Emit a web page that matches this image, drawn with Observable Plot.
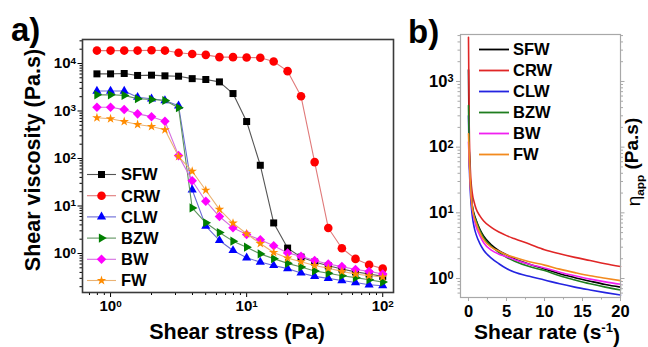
<!DOCTYPE html>
<html><head><meta charset="utf-8">
<script src="https://cdn.jsdelivr.net/npm/d3@7"></script>
<script src="https://cdn.jsdelivr.net/npm/@observablehq/plot@0.6"></script>
<style>
body{margin:0;background:#fff;}
#wrap{position:relative;width:648px;height:347px;overflow:hidden;}
#wrap svg{position:absolute;top:0;}
</style></head><body><div id="wrap"></div>
<script>
// ---------- data ----------
const series = ["SFW", "CRW", "CLW", "BZW", "BW", "FW"];

// panel a: shear stress (Pa) vs shear viscosity (Pa.s)
const stressA = [0.794, 1, 1.26, 1.58, 2, 2.51, 3.16, 3.98, 5.01, 6.31, 7.94, 10, 12.6, 15.8, 20, 25.1, 31.6, 39.8, 50.1, 63.1, 79.4, 100];
const sfwA = [6050, 6050, 6150, 5600, 5680, 5500, 5400, 4800, 4600, 4100, 2330, 600, 72, 4.4, 1.3, 0.84, 0.66, 0.55, 0.47, 0.41, 0.37, 0.33];
const crwA = [18700, 18700, 18700, 18700, 19000, 18700, 16800, 15900, 15200, 13600, 13600, 13400, 13200, 11000, 6900, 2040, 84, 3.45, 1.29, 0.77, 0.58, 0.48];
const clwA = [2630, 2630, 2630, 1950, 1810, 1660, 1290, 22, 3.76, 1.88, 1.16, 0.81, 0.66, 0.56, 0.48, 0.39, 0.33, 0.30, 0.27, 0.245, 0.22, 0.21];
const bzwA = [2190, 2190, 2130, 1810, 1740, 1660, 1170, 9.1, 4.43, 2.77, 1.82, 1.36, 0.98, 0.78, 0.62, 0.52, 0.43, 0.385, 0.34, 0.31, 0.28, 0.25];
const bwA  = [1200, 1200, 1070, 870, 760, 610, 115, 34, 12.6, 6.0, 3.47, 2.5, 1.94, 1.46, 1.03, 0.87, 0.71, 0.60, 0.53, 0.46, 0.42, 0.37];
const fwA  = [720, 685, 600, 520, 472, 402, 110, 54, 21.5, 8.5, 4.35, 2.6, 1.62, 1.05, 0.8, 0.67, 0.56, 0.49, 0.42, 0.37, 0.34, 0.32];
const xTicksA = [1, 10, 100];
const yTicksA = [1, 10, 100, 1000, 10000];

// panel b: shear rate (1/s) vs apparent viscosity (Pa.s)
const rateB = [0, 0.1, 0.25, 0.5, 0.75, 1, 1.5, 2, 3, 4, 5, 6, 8, 10, 12, 14, 16, 18, 20];
const sfwB = [1500, 90, 30, 13, 9.5, 7.8, 5.6, 4.4, 3.25, 2.65, 2.3, 2.0, 1.65, 1.4, 1.18, 1.03, 0.91, 0.81, 0.74];
const crwB = [4700, 200, 45, 20, 14.5, 11.5, 9, 7.5, 6, 5.1, 4.5, 4.05, 3.35, 2.75, 2.38, 2.1, 1.88, 1.68, 1.52];
const clwB = [300, 60, 20, 9, 6, 4.7, 3.4, 2.7, 2.05, 1.68, 1.42, 1.26, 1.08, 0.95, 0.83, 0.74, 0.67, 0.61, 0.56];
const bzwB = [430, 85, 28, 12.5, 9, 7.6, 5.4, 4.2, 3.1, 2.5, 2.1, 1.85, 1.52, 1.32, 1.1, 0.95, 0.83, 0.74, 0.67];
const bwB  = [120, 60, 25, 11.5, 8, 6.2, 4.5, 3.5, 2.7, 2.35, 2.15, 1.95, 1.65, 1.45, 1.25, 1.10, 0.98, 0.89, 0.82];
const fwB  = [160, 70, 27, 12, 8.6, 7, 5, 3.9, 3.0, 2.6, 2.3, 2.1, 1.8, 1.6, 1.39, 1.23, 1.1, 1.01, 0.93];
const xTicksB = [0, 5, 10, 15, 20];
const xMinorB = [2.5, 7.5, 12.5, 17.5];
const yTicksB = [1, 10, 100, 1000];

// ---------- styles ----------
const FONT = '"Liberation Sans", Arial, Helvetica, sans-serif';
const markerColors = ["#000000", "#ff0000", "#0000ff", "#008000", "#ff00ff", "#ff8c00"];
const lineColorsA = ["#555555", "#e07a7a", "#6a6ad6", "#5f945f", "#d46ee0", "#eab273"];
const lineColorsB = ["#000000", "#e02626", "#2424e0", "#1f7d1f", "#f020f0", "#f28a1e"];

const triRight = {draw(ctx, size) {
  const y = -Math.sqrt(size / (Math.sqrt(3) * 3));
  ctx.moveTo(-2 * y, 0); ctx.lineTo(y, -Math.sqrt(3) * y); ctx.lineTo(y, Math.sqrt(3) * y); ctx.closePath();
}};
const diamondSym = {draw(ctx, size) {
  const d = Math.sqrt(size * 2) / 2;
  ctx.moveTo(0, -d); ctx.lineTo(d, 0); ctx.lineTo(0, d); ctx.lineTo(-d, 0); ctx.closePath();
}};
const symbolsA = [d3.symbolSquare, d3.symbolCircle, d3.symbolTriangle, triRight, diamondSym, d3.symbolStar];
const radiiA = [3.95, 4.3, 3.4, 3.4, 3.8, 3.0];

const valsA = [sfwA, crwA, clwA, bzwA, bwA, fwA];
const valsB = [sfwB, crwB, clwB, bzwB, bwB, fwB];

function minorTicks(lo, hi, e0, e1) {
  return d3.range(e0, e1).flatMap(e => d3.range(2, 10).map(m => m * Math.pow(10, e))).filter(v => v >= lo && v <= hi);
}
const pow = d => "10^" + Math.round(Math.log10(d));

function supify(svg) {
  d3.select(svg).selectAll("text").each(function() {
    const m = /^10\^(-?\d+)$/.exec(this.textContent);
    if (!m) return;
    const sel = d3.select(this);
    sel.text(null);
    sel.append("tspan").text("10");
    sel.append("tspan").attr("dy", "-0.45em").attr("font-size", "0.66em").text(m[1]);
  });
}

// ---------- panel a ----------
const xDomA = [0.622, 120], yDomA = [0.151, 32000];
const marksA = [
  Plot.axisX(minorTicks(xDomA[0], xDomA[1], -1, 3), {tickSize: 3, tickFormat: () => "", label: null}),
  Plot.axisX(xTicksA, {tickSize: 5, tickPadding: 3, tickFormat: pow, label: null}),
  Plot.axisY(minorTicks(yDomA[0], yDomA[1], -1, 5), {tickSize: 2.5, tickFormat: () => "", label: null}),
  Plot.axisY(yTicksA, {tickSize: 4.5, tickPadding: 2, tickFormat: pow, label: null})
];
series.forEach((s, k) => {
  const rows = stressA.map((x, i) => ({x, y: valsA[k][i]}));
  marksA.push(Plot.line(rows, {x: "x", y: "y", stroke: lineColorsA[k], strokeWidth: 1.1}));
  marksA.push(Plot.dot(rows, {x: "x", y: "y", symbol: symbolsA[k], r: radiiA[k], fill: markerColors[k], stroke: "none"}));
});
marksA.push(Plot.frame({stroke: "#3a3a3a", strokeWidth: 1.6}));

const plotA = Plot.plot({
  width: 400, height: 347,
  marginLeft: 82, marginRight: 7, marginTop: 39, marginBottom: 55,
  x: {type: "log", domain: xDomA, label: null},
  y: {type: "log", domain: yDomA, label: null},
  style: {fontFamily: FONT, fontSize: "15px", fontWeight: "bold", color: "#000", background: "transparent", overflow: "visible"},
  marks: marksA
});
plotA.style.left = "0px";
supify(plotA);
{
  const g = d3.select(plotA).append("g").attr("font-family", FONT).attr("font-weight", "bold").attr("text-anchor", "start");
  series.forEach((s, k) => {
    const y = 174.5 + 21.2 * k;
    g.append("line").attr("x1", 87).attr("x2", 116).attr("y1", y).attr("y2", y).attr("stroke", lineColorsA[k]).attr("stroke-width", 1.1);
    g.append("path").attr("transform", `translate(101.5,${y})`).attr("d", d3.symbol(symbolsA[k], Math.PI * radiiA[k] ** 2)()).attr("fill", markerColors[k]);
    g.append("text").attr("x", 121).attr("y", y).attr("dy", "0.36em").attr("font-size", 16.5).text(s);
  });
  g.append("text").attr("x", 11).attr("y", 41).attr("font-size", 33).text("a)");
  g.append("text").attr("x", 237).attr("y", 339).attr("text-anchor", "middle").attr("font-size", 21.5).text("Shear stress (Pa)");
  g.append("text").attr("transform", "translate(40,160) rotate(-90)").attr("text-anchor", "middle").attr("font-size", 21.5).text("Shear viscosity (Pa.s)");
}

// ---------- panel b ----------
const xDomB = [-1.05, 20], yDomB = [0.514, 5190];
const grey = "#a8a8a8";
const marksB = [
  Plot.axisX(xMinorB, {tickSize: 2.5, stroke: grey, tickFormat: () => "", label: null}),
  Plot.axisX(xTicksB, {tickSize: 4, stroke: grey, tickFormat: () => "", label: null}),
  Plot.axisX(xTicksB, {tickSize: 0, tickPadding: 8, label: null}),
  Plot.axisY(minorTicks(yDomB[0], yDomB[1], -1, 4), {tickSize: 2.5, stroke: grey, tickFormat: () => "", label: null}),
  Plot.axisY(yTicksB, {tickSize: 4, stroke: grey, tickFormat: () => "", label: null}),
  Plot.axisY(yTicksB, {tickSize: 0, tickPadding: 7, tickFormat: pow, label: null}),
  Plot.axisY(minorTicks(yDomB[0], yDomB[1], -1, 4), {anchor: "right", tickSize: 2, stroke: grey, tickFormat: () => "", label: null}),
  Plot.axisY(yTicksB, {anchor: "right", tickSize: 3.5, stroke: grey, tickFormat: () => "", label: null})
];
series.forEach((s, k) => {
  const rows = rateB.map((x, i) => ({x, y: valsB[k][i]}));
  marksB.push(Plot.line(rows, {x: "x", y: "y", stroke: lineColorsB[k], strokeWidth: 1.6, curve: "monotone-x"}));
});
marksB.push(Plot.frame({stroke: grey, strokeWidth: 1.2}));

const plotB = Plot.plot({
  width: 248, height: 347,
  marginLeft: 60, marginRight: 28, marginTop: 34, marginBottom: 50,
  x: {domain: xDomB, label: null},
  y: {type: "log", domain: yDomB, label: null},
  style: {fontFamily: FONT, fontSize: "16.5px", fontWeight: "bold", color: "#000", background: "transparent", overflow: "visible"},
  marks: marksB
});
plotB.style.left = "400px";
supify(plotB);
{
  const g = d3.select(plotB).append("g").attr("font-family", FONT).attr("font-weight", "bold").attr("text-anchor", "start");
  series.forEach((s, k) => {
    const y = 49.5 + 21 * k;
    g.append("line").attr("x1", 79).attr("x2", 109).attr("y1", y).attr("y2", y).attr("stroke", lineColorsB[k]).attr("stroke-width", 1.8);
    g.append("text").attr("x", 113).attr("y", y).attr("dy", "0.36em").attr("font-size", 16.5).text(s);
  });
  g.append("text").attr("x", 8).attr("y", 43).attr("font-size", 33).text("b)");
  const xl = g.append("text").attr("x", 147).attr("y", 339).attr("text-anchor", "middle").attr("font-size", 21);
  xl.append("tspan").text("Shear rate (s");
  xl.append("tspan").attr("dy", "-0.5em").attr("font-size", "0.62em").text("-1");
  xl.append("tspan").attr("dy", "0.5em").text(")");
  const yl = g.append("text").attr("transform", "translate(240,162) rotate(-90)").attr("text-anchor", "middle").attr("font-size", 19);
  yl.append("tspan").attr("font-weight", "normal").text("η");
  yl.append("tspan").attr("dy", "0.3em").attr("font-size", "0.62em").text("app");
  yl.append("tspan").attr("dy", "-0.3em").text(" (Pa.s)");
}

document.getElementById("wrap").append(plotA, plotB);
</script>
</body></html>
